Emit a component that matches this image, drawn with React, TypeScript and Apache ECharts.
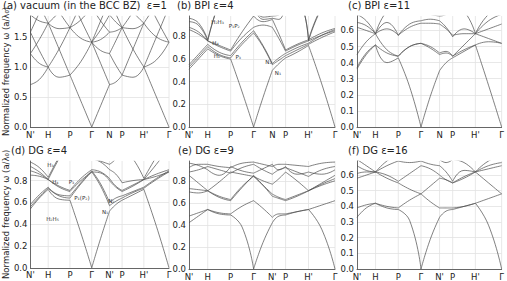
import React, { useEffect, useRef } from 'react';
import * as echarts from 'echarts';

// k-path node positions (cumulative |dk|, units 2pi/a)
const kNodes = [0, 0.7071, 1.5731, 2.4392, 3.1463, 3.6463, 4.5123, 5.5123];
const labelsTop = ["N'", 'H', 'P', 'Γ', 'N', 'P', "H'", 'Γ'];
const labelsBottom = ["N'", 'H', 'P', 'Γ', "N'", 'P', "H'", 'Γ'];

// (a) vacuum: per segment, branches [start, mid, end]
const vacuumSegs: number[][][] = [
  [[0.707, 0.791, 1.0], [1.225, 1.061, 1.0], [1.581, 1.275, 1.0], [1.225, 1.458, 1.732], [1.871, 1.768, 1.732], [1.581, 1.904, 2.236], [2.345, 2.031, 1.732]],
  [[1.0, 0.829, 0.866], [1.0, 1.299, 1.658], [1.732, 1.299, 0.866], [1.732, 1.639, 1.658], [1.732, 1.92, 2.179], [2.236, 1.92, 1.658]],
  [[0.866, 0.433, 0], [0.866, 1.09, 1.414], [1.658, 1.479, 1.414], [2.179, 1.785, 1.414], [1.658, 1.785, 2.0], [1.658, 2.046, 2.449]],
  [[0, 0.354, 0.707], [1.414, 1.061, 0.707], [1.414, 1.275, 1.225], [1.414, 1.458, 1.581], [1.414, 1.62, 1.871], [1.414, 1.768, 2.121], [2.0, 1.768, 1.581]],
  [[0.707, 0.75, 0.866], [1.225, 1.031, 0.866], [1.225, 1.436, 1.658], [1.581, 1.601, 1.658], [1.871, 1.75, 1.658], [2.121, 1.887, 1.658]],
  [[0.866, 0.829, 1.0], [1.658, 1.299, 1.0], [0.866, 1.299, 1.732], [1.658, 1.639, 1.732], [2.179, 1.92, 1.732], [1.658, 1.92, 2.236]],
  [[1.0, 0.5, 0], [1.0, 1.5, 2.0], [1.732, 1.5, 1.414], [1.0, 1.118, 1.414], [2.236, 1.803, 1.414], [1.732, 2.062, 2.449]],
];

// dielectric panels: band values at [N', mid, H, mid, P, mid, Γ, mid, N, mid, P, mid, H', mid, Γ]
const bandsB: number[][] = [
  [0.51, 0.6, 0.69, 0.63, 0.6, 0.31, 0, 0.26, 0.5, 0.56, 0.61, 0.66, 0.72, 0.38, 0],
  [0.53, 0.62, 0.71, 0.64, 0.61, 0.73, 0.83, 0.71, 0.55, 0.59, 0.63, 0.68, 0.73, 0.79, 0.84],
  [0.55, 0.64, 0.73, 0.66, 0.63, 0.75, 0.85, 0.72, 0.56, 0.61, 0.65, 0.7, 0.74, 0.81, 0.86],
  [0.86, 0.82, 0.76, 0.71, 0.67, 0.79, 0.88, 0.9, 0.88, 0.78, 0.67, 0.72, 0.76, 0.81, 0.85],
  [0.88, 0.84, 0.76, 0.72, 0.68, 0.84, 0.98, 0.93, 0.95, 0.82, 0.68, 0.73, 0.77, 0.83, 0.87],
  [0.93, 0.9, 0.76, 1.1, 1.3, 1.2, 1.1, 0.95, 0.96, 0.95, 1.1, 1.1, 0.76, 1.05, 1.2],
  [0.96, 0.92, 0.77, 1.1, 1.3, 1.2, 1.1, 0.97, 0.98, 0.99, 1.1, 1.1, 0.77, 1.06, 1.2],
];
const bandsC: number[][] = [
  [0.36, 0.45, 0.51, 0.4, 0.43, 0.25, 0, 0.19, 0.35, 0.4, 0.43, 0.47, 0.51, 0.26, 0],
  [0.45, 0.53, 0.58, 0.48, 0.44, 0.5, 0.52, 0.5, 0.46, 0.47, 0.44, 0.51, 0.58, 0.55, 0.52],
  [0.37, 0.46, 0.51, 0.46, 0.44, 0.5, 0.52, 0.49, 0.45, 0.46, 0.44, 0.48, 0.51, 0.53, 0.52],
  [0.62, 0.6, 0.58, 0.61, 0.57, 0.62, 0.645, 0.645, 0.64, 0.61, 0.57, 0.58, 0.58, 0.61, 0.64],
  [0.65, 0.63, 0.58, 0.65, 0.57, 0.64, 0.66, 0.67, 0.66, 0.62, 0.56, 0.61, 0.58, 0.66, 0.7],
  [0.7, 0.66, 0.58, 0.72, 0.75, 0.74, 0.72, 0.7, 0.69, 0.7, 0.75, 0.72, 0.58, 0.7, 0.74],
];
const bandsD: number[][] = [
  [0.54, 0.64, 0.72, 0.63, 0.62, 0.32, 0, 0.27, 0.52, 0.58, 0.62, 0.67, 0.72, 0.38, 0],
  [0.56, 0.65, 0.73, 0.66, 0.64, 0.77, 0.88, 0.75, 0.57, 0.61, 0.64, 0.69, 0.73, 0.81, 0.88],
  [0.58, 0.67, 0.74, 0.67, 0.66, 0.78, 0.89, 0.77, 0.6, 0.64, 0.66, 0.7, 0.74, 0.82, 0.89],
  [0.85, 0.84, 0.81, 0.74, 0.7, 0.8, 0.88, 0.87, 0.8, 0.74, 0.7, 0.75, 0.81, 0.84, 0.88],
  [0.89, 0.86, 0.81, 0.75, 0.71, 0.82, 0.9, 0.88, 0.82, 0.75, 0.71, 0.76, 0.81, 0.86, 0.9],
  [0.93, 0.88, 0.81, 1.0, 1.15, 1.05, 1.0, 0.97, 0.9, 0.86, 0.78, 0.8, 0.81, 0.95, 1.1],
  [0.97, 0.92, 0.83, 1.02, 1.2, 1.1, 1.02, 0.98, 0.95, 1.0, 1.1, 1.0, 0.82, 1.02, 1.2],
];
const bandsE: number[][] = [
  [0.42, 0.48, 0.54, 0.5, 0.49, 0.38, 0, 0.24, 0.42, 0.48, 0.49, 0.52, 0.54, 0.36, 0],
  [0.48, 0.51, 0.54, 0.51, 0.5, 0.57, 0.62, 0.55, 0.47, 0.5, 0.5, 0.52, 0.54, 0.58, 0.62],
  [0.7, 0.69, 0.71, 0.65, 0.62, 0.74, 0.85, 0.76, 0.66, 0.64, 0.62, 0.66, 0.71, 0.78, 0.85],
  [0.73, 0.72, 0.71, 0.66, 0.63, 0.75, 0.84, 0.76, 0.68, 0.65, 0.63, 0.67, 0.71, 0.77, 0.82],
  [0.85, 0.78, 0.71, 0.79, 0.88, 0.86, 0.84, 0.8, 0.77, 0.82, 0.88, 0.8, 0.71, 0.76, 0.8],
  [0.88, 0.9, 0.93, 0.9, 0.87, 0.92, 0.95, 0.9, 0.86, 0.9, 0.92, 0.88, 0.84, 0.9, 0.93],
  [0.92, 0.95, 0.95, 0.93, 0.92, 0.96, 0.97, 0.95, 0.93, 0.95, 0.95, 0.94, 0.93, 0.96, 0.97],
  [0.96, 0.94, 0.9, 0.85, 0.93, 0.89, 0.87, 0.91, 0.95, 0.9, 0.93, 0.86, 0.88, 0.86, 0.9],
];
const bandsF: number[][] = [
  [0.33, 0.39, 0.42, 0.39, 0.38, 0.31, 0, 0.19, 0.33, 0.37, 0.38, 0.4, 0.42, 0.28, 0],
  [0.39, 0.41, 0.42, 0.4, 0.39, 0.44, 0.48, 0.43, 0.39, 0.39, 0.39, 0.4, 0.42, 0.45, 0.48],
  [0.58, 0.6, 0.62, 0.58, 0.55, 0.51, 0.48, 0.53, 0.58, 0.57, 0.55, 0.58, 0.62, 0.55, 0.48],
  [0.61, 0.62, 0.62, 0.6, 0.56, 0.61, 0.66, 0.64, 0.6, 0.57, 0.55, 0.59, 0.62, 0.64, 0.66],
  [0.66, 0.63, 0.62, 0.66, 0.69, 0.68, 0.69, 0.67, 0.66, 0.62, 0.56, 0.63, 0.62, 0.66, 0.68],
  [0.7, 0.66, 0.62, 0.69, 0.73, 0.72, 0.7, 0.7, 0.7, 0.68, 0.7, 0.68, 0.62, 0.69, 0.72],
];

// mode labels [k, frequency, text]
const notesB: [number, number, string][] = [
  [1.08, 0.93, 'H₂H₃'], [1.0, 0.745, 'H₄'], [1.05, 0.63, 'H₁'],
  [1.71, 0.9, 'P₁P₂'], [1.86, 0.62, 'P₃'], [3.0, 0.575, 'N₂'], [3.36, 0.48, 'N₁'],
];
const notesD: [number, number, string][] = [
  [0.8, 0.95, 'H₃'], [0.99, 0.79, 'H₄'], [1.63, 0.79, 'P₃'], [2.05, 0.645, 'P₁(P₂)'],
  [0.88, 0.45, 'H₂H₅'], [3.22, 0.62, 'N₂'], [2.97, 0.52, 'N₁'],
];

function bandsToSegs(bands: number[][]): number[][][] {
  const segs: number[][][] = [];
  for (let s = 0; s < 7; s++) segs.push(bands.map((b) => [b[2 * s], b[2 * s + 1], b[2 * s + 2]]));
  return segs;
}

type Panel = {
  title: string; titleLeft: number; row: number; col: number; yMax: number; interval: number;
  segs: number[][][]; labels: string[]; notes?: [number, number, string][]; yName?: boolean;
};

const panels: Panel[] = [
  { title: '(a) vacuum (in the BCC BZ)  ε=1', titleLeft: 3, row: 0, col: 0, yMax: 1.85, interval: 0.5, segs: vacuumSegs, labels: labelsTop, yName: true },
  { title: '(b) BPI ε=4', titleLeft: 177, row: 0, col: 1, yMax: 0.98, interval: 0.2, segs: bandsToSegs(bandsB), labels: labelsTop, notes: notesB },
  { title: '(c) BPI ε=11', titleLeft: 348, row: 0, col: 2, yMax: 0.69, interval: 0.1, segs: bandsToSegs(bandsC), labels: labelsTop },
  { title: '(d) DG ε=4', titleLeft: 11, row: 1, col: 0, yMax: 0.98, interval: 0.2, segs: bandsToSegs(bandsD), labels: labelsBottom, notes: notesD, yName: true },
  { title: '(e) DG ε=9', titleLeft: 178, row: 1, col: 1, yMax: 0.98, interval: 0.2, segs: bandsToSegs(bandsE), labels: labelsBottom },
  { title: '(f) DG ε=16', titleLeft: 348, row: 1, col: 2, yMax: 0.69, interval: 0.1, segs: bandsToSegs(bandsF), labels: labelsBottom },
];

const FONT = 'DejaVu Sans';
const colLeft = [23, 189, 357];
const rowTop = [16, 161];
const GW = 146;
const GH = 111;

function buildOption() {
  const grid: any[] = [];
  const xAxis: any[] = [];
  const yAxis: any[] = [];
  const title: any[] = [];
  const series: any[] = [];
  panels.forEach((p, i) => {
    grid.push({ left: colLeft[p.col], top: rowTop[p.row], width: GW, height: GH, containLabel: false });
    const labs = p.labels;
    xAxis.push({
      type: 'value', gridIndex: i, min: 0, max: kNodes[kNodes.length - 1],
      axisLine: { show: true, lineStyle: { color: '#444', width: 0.8 } },
      axisTick: { show: false, customValues: kNodes },
      splitLine: { show: false },
      axisLabel: {
        customValues: kNodes, fontSize: 8.5, fontFamily: FONT, color: '#222', margin: 3,
        formatter: (v: number) => {
          const idx = kNodes.findIndex((n) => Math.abs(n - v) < 1e-3);
          return idx >= 0 ? labs[idx] : '';
        },
      },
    });
    const iv = p.interval;
    yAxis.push({
      type: 'value', gridIndex: i, min: 0, max: p.yMax, interval: iv,
      name: p.yName ? 'Normalized frequency ω (a/λ₀)' : '',
      nameLocation: 'middle', nameGap: 16, nameRotate: 90,
      nameTextStyle: { fontSize: 8.5, fontFamily: FONT, color: '#222' },
      axisLine: { show: true, lineStyle: { color: '#444', width: 0.8 } },
      axisTick: { show: false },
      axisLabel: {
        fontSize: 8.5, fontFamily: FONT, color: '#222', margin: 3, showMaxLabel: false,
        formatter: (v: number) => (Math.abs(v / iv - Math.round(v / iv)) < 1e-6 ? v.toFixed(1) : ''),
      },
      splitLine: { show: true, showMaxLine: false, lineStyle: { color: '#e2e2e2', width: 0.8 } },
    });
    title.push({
      text: p.title, left: p.titleLeft, top: p.row === 0 ? 0 : 145,
      textStyle: { fontSize: 10, fontFamily: FONT, fontWeight: 'normal', color: '#222' },
      padding: 0,
    });
    // vertical grid lines at high-symmetry points
    kNodes.slice(1).forEach((k) => {
      series.push({
        type: 'line', xAxisIndex: i, yAxisIndex: i, data: [[k, 0], [k, p.yMax]], symbol: 'none', silent: true,
        lineStyle: { color: '#e2e2e2', width: 0.8 }, z: 1,
      });
    });
    p.segs.forEach((branches, s) => {
      const x0 = kNodes[s];
      const x1 = kNodes[s + 1];
      const xm = (x0 + x1) / 2;
      branches.forEach((b) => {
        series.push({
          type: 'line', xAxisIndex: i, yAxisIndex: i, smooth: 0.5, symbol: 'none', silent: true, clip: true,
          data: [[x0, b[0]], [xm, b[1]], [x1, b[2]]],
          lineStyle: { color: '#4a4a4a', width: 0.7 }, z: 3,
        });
      });
    });
    if (p.notes) {
      series.push({
        type: 'scatter', xAxisIndex: i, yAxisIndex: i, symbol: 'circle', symbolSize: 1, silent: true,
        itemStyle: { color: '#333', opacity: 0 },
        data: p.notes.map((n) => [n[0], n[1], n[2]]),
        label: {
          show: true, position: 'top', distance: -4, formatter: (d: any) => d.data[2],
          fontSize: 5.5, fontFamily: FONT, color: '#333', opacity: 1, textBorderWidth: 0,
        },
        z: 5,
      });
    }
  });
  return { animation: false, backgroundColor: '#ffffff', grid, xAxis, yAxis, title, series };
}

export default function App() {
  const ref = useRef<HTMLDivElement>(null);
  useEffect(() => {
    if (!ref.current) return;
    const chart = echarts.init(ref.current, undefined, { renderer: 'svg' });
    chart.setOption(buildOption() as any);
    return () => chart.dispose();
  }, []);
  return <div ref={ref} style={{ position: 'fixed', left: 0, top: 0, width: 507, height: 281, background: '#fff' }} />;
}
